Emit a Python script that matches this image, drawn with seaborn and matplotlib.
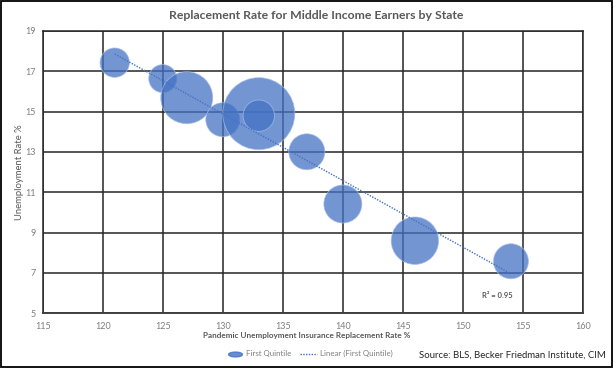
import numpy as np
import pandas as pd
import matplotlib
matplotlib.use("Agg")
import matplotlib.pyplot as plt
import seaborn as sns
from matplotlib.lines import Line2D
from matplotlib.patches import Rectangle
from matplotlib.path import Path
from matplotlib.transforms import Affine2D

# ==================================================
# DATA
# ==================================================
replacement_rate = [121, 125, 127, 130, 133, 133, 137, 140, 146, 154]
unemployment_rate = [17.43, 16.64, 15.69, 14.60, 14.90, 14.80, 13.01, 10.42, 8.60, 7.58]
bubble_area = [216, 196, 676, 289, 1296, 246, 324, 361, 562, 306]

x_ticks = [115, 120, 125, 130, 135, 140, 145, 150, 155, 160]
y_ticks = [5, 7, 9, 11, 13, 15, 17, 19]

title = "Replacement Rate for Middle Income Earners by State"
x_label = "Pandemic Unemployment Insurance Replacement Rate %"
y_label = "Unemployment Rate %"
series_label = "First Quintile"
trend_label = "Linear (First Quintile)"
r2_label = "R\u00b2 = 0.95"
source_label = "Source: BLS, Becker Friedman Institute, CIM"

df = pd.DataFrame({
    "rate": replacement_rate,
    "unemp": unemployment_rate,
    "area": bubble_area,
})

# ==================================================
# STYLE
# ==================================================
sns.set_theme(style="white")
plt.rcParams["font.family"] = ["Lato", "DejaVu Sans"]

BLUE = "#4472C4"
GRID = "#262626"
GREY_TXT = "#595959"
TICK_TXT = "#7f7f7f"

fig = plt.figure(figsize=(6.14, 3.69), dpi=100)
ax = fig.add_axes([0.0695, 0.151, 0.88, 0.765])

# bubble area -> marker area in points^2 (px radius^2 * (2*0.72)^2)
scale = 2.0736
lo, hi = min(bubble_area), max(bubble_area)
sns.scatterplot(data=df, x="rate", y="unemp", size="area",
                sizes=(lo * scale, hi * scale), size_norm=(lo, hi),
                color=BLUE, alpha=0.75, edgecolor="#a9bfe9", linewidth=0.6,
                legend=False, ax=ax, zorder=3)

# linear trendline
sns.regplot(data=df, x="rate", y="unemp", scatter=False, ci=None, ax=ax,
            line_kws=dict(color=BLUE, ls=(0, (1, 1)), lw=1.0, zorder=4))

ax.set_xlim(115, 160)
ax.set_ylim(5, 19)
ax.set_xticks(x_ticks)
ax.set_yticks(y_ticks)
ax.grid(True, color=GRID, lw=1.1)
ax.set_axisbelow(True)
for s in ax.spines.values():
    s.set_visible(True)
    s.set_color(GRID)
    s.set_linewidth(1.1)
ax.spines["bottom"].set_color("#404040")
ax.spines["bottom"].set_linewidth(1.4)
ax.tick_params(axis="both", length=0, labelsize=6.5, colors=TICK_TXT)
ax.tick_params(axis="x", pad=6)
ax.tick_params(axis="y", pad=5)

ax.set_xlabel(x_label, fontsize=5.9, fontweight="bold", color=GREY_TXT)
ax.set_ylabel(y_label, fontsize=6.8, color=GREY_TXT)
ax.xaxis.set_label_coords(0.489, -0.066)
ax.yaxis.set_label_coords(-0.035, 0.5)

ax.text(152.9, 5.86, r2_label, fontsize=5.5, fontweight="bold",
        color=GREY_TXT, ha="center", va="center")

fig.text(0.515, 0.959, title, fontsize=8.8, fontweight="bold",
         color=GREY_TXT, ha="center", va="center")

# legend
ellipse = Path.unit_circle().transformed(Affine2D().scale(1.0, 0.35))
handles = [
    Line2D([], [], ls="none", marker=ellipse, markersize=10,
           markerfacecolor=BLUE, markeredgecolor=BLUE, alpha=0.8),
    Line2D([], [], color=BLUE, ls=(0, (1, 1)), lw=1.0),
]
fig.legend(handles, [series_label, trend_label], ncol=2, loc="center",
           bbox_to_anchor=(0.504, 0.041), frameon=False, fontsize=5.7,
           labelcolor=TICK_TXT, handlelength=2.2, columnspacing=1.0,
           handletextpad=0.4)

fig.text(0.682, 0.038, source_label, fontsize=6.9, color="#262626",
         ha="left", va="center")

# outer border
fig.patches.append(Rectangle((0.002, 0.006), 0.994, 0.99, fill=False,
                             lw=1.3, ec="black", transform=fig.transFigure))

fig.savefig("out.png", dpi=100)
